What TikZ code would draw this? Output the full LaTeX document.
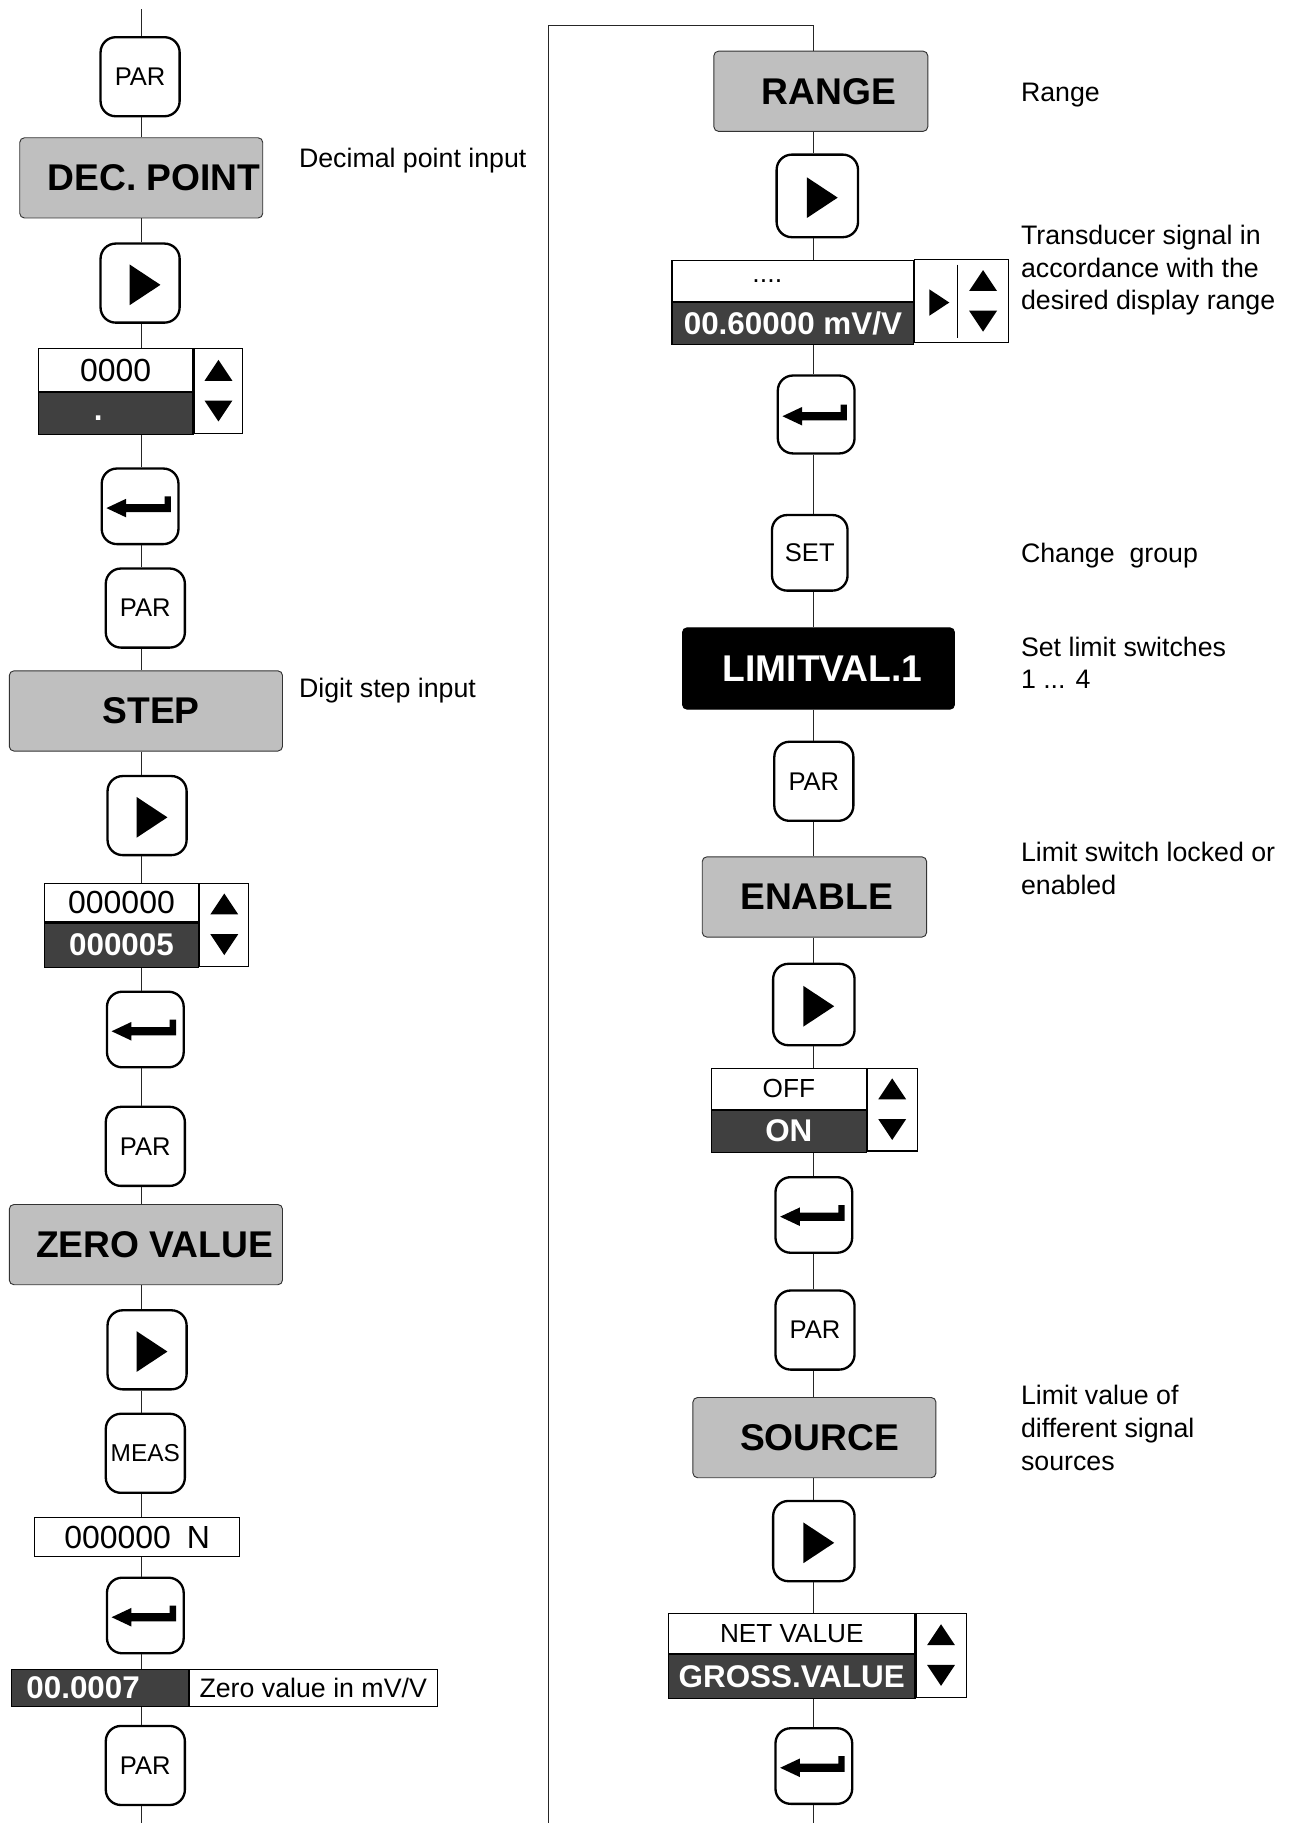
\documentclass[tikz,border=0pt]{standalone}
\usepackage{fontspec}
\setmainfont{Liberation Sans}
\usetikzlibrary{positioning}
\definecolor{titlegray}{RGB}{191,191,191}
\definecolor{dispdark}{RGB}{64,64,64}

\begin{document}
\begin{tikzpicture}[x=1pt,y=-1pt,
  keybox/.style={draw,line width=2pt,rounded corners=13pt,fill=white,
    minimum width=68pt,minimum height=68pt,inner sep=0pt,
    font=\fontsize{22}{26}\selectfont},
  enterbox/.style={keybox,minimum width=66pt,minimum height=65pt},
  titlebox/.style={draw=black!80,line width=0.8pt,rounded corners=4pt,
    fill=titlegray,minimum height=69pt,inner sep=0pt,
    font=\fontsize{32}{36}\selectfont\bfseries},
  limbox/.style={titlebox,draw=black,fill=black,text=white},
  cell/.style={draw,line width=0.9pt,fill=white,inner sep=0pt,
    font=\fontsize{27.5}{30}\selectfont},
  darkcell/.style={cell,fill=dispdark,text=white,
    font=\fontsize{27}{30}\selectfont\bfseries},
  wordcell/.style={cell,font=\fontsize{22.5}{26}\selectfont},
  note/.style={inner sep=0pt,align=left,font=\fontsize{23}{28}\selectfont},
  flow/.style={line width=0.9pt,black!85},
  playsym/.pic={\fill (-9,-16) -- (17.5,1.5) -- (-9,19) -- cycle;},
  entersym/.pic={\fill (-29,1.5) -- (-12,-6.5) -- (-12,-2) -- (21,-2)
    -- (21,-8.5) -- (26.5,-8.5) -- (26.5,5) -- (-12,5) -- (-12,9.5) -- cycle;},
  updown/.pic={\fill (0,-27) -- (12,-9) -- (-12,-9) -- cycle;
    \fill (-12,8) -- (12,8) -- (0,26) -- cycle;}
]
\useasboundingbox (0,0) rectangle (1113,1568);
\coordinate (lsp) at (122,0);
\coordinate (rsp) at (700,0);
\coordinate (ltop) at (122,8);
\coordinate (lbot) at (122,1568);
\coordinate (fbot) at (472,1568);
\coordinate (ftop) at (472,22);

% left column
\node[keybox] (par1) at (120.5,66) {PAR};
\node[titlebox,minimum width=209pt] (dec) at (121.5,153) {\hspace*{22pt}DEC. POINT};
\node[keybox] (play1) at (120.5,243.5) {};
\pic at (play1) {playsym};
\node[cell,minimum width=133pt,minimum height=37pt] (d1t) at (99.5,318.5) {0000};
\node[darkcell,minimum width=133pt,minimum height=36pt,below=0pt of d1t] (d1b)
  {\strut.\hspace*{30pt}};
\node[cell,minimum width=42pt,minimum height=73pt,anchor=north west] (d1a)
  at (d1t.north east) {};
\pic at (d1a) {updown};
\node[enterbox] (ent1) at (120.5,435.5) {};
\pic at (ent1) {entersym};
\node[keybox] (par2) at (125,523) {PAR};
\node[titlebox,minimum width=235pt] (step) at (125.5,611.5) {\hspace*{9pt}STEP};
\node[keybox] (play2) at (126.5,701.5) {};
\pic at (play2) {playsym};
\node[cell,minimum width=133pt,minimum height=33pt] (d3t) at (104.5,776.5) {000000};
\node[darkcell,minimum width=133pt,minimum height=38pt,below=0pt of d3t] (d3b)
  {000005};
\node[cell,minimum width=42pt,minimum height=71pt,anchor=north west] (d3a)
  at (d3t.north east) {};
\pic at (d3a) {updown};
\node[enterbox] (ent2) at (125,885.5) {};
\pic at (ent2) {entersym};
\node[keybox] (par3) at (125,986) {PAR};
\node[titlebox,minimum width=235pt] (zero) at (125.5,1070.5) {\hspace*{15pt}ZERO VALUE};
\node[keybox] (play3) at (126.5,1161) {};
\pic at (play3) {playsym};
\node[keybox,font=\fontsize{21}{24}\selectfont] (meas) at (125,1250) {MEAS};
\node[cell,minimum width=176pt,minimum height=34pt] (d5) at (118,1322)
  {000000\hspace{0.5em}N};
\node[enterbox] (ent3) at (125,1389.5) {};
\pic at (ent3) {entersym};
\node[darkcell,minimum width=152pt,minimum height=32pt] (zv) at (86,1452)
  {00.0007\hspace*{29pt}};
\node[cell,minimum width=213pt,minimum height=32pt,anchor=west,
  font=\fontsize{23}{28}\selectfont] (zvt) at (zv.east) {Zero value in mV/V};
\node[keybox] (par4) at (125,1518.5) {PAR};

\draw[flow] (ltop) -- (par1.north -| lsp);
\draw[flow] (par1.south -| lsp) -- (dec.north -| lsp);
\draw[flow] (dec.south -| lsp) -- (play1.north -| lsp);
\draw[flow] (play1.south -| lsp) -- (d1t.north -| lsp);
\draw[flow] (d1b.south -| lsp) -- (ent1.north -| lsp);
\draw[flow] (ent1.south -| lsp) -- (par2.north -| lsp);
\draw[flow] (par2.south -| lsp) -- (step.north -| lsp);
\draw[flow] (step.south -| lsp) -- (play2.north -| lsp);
\draw[flow] (play2.south -| lsp) -- (d3t.north -| lsp);
\draw[flow] (d3b.south -| lsp) -- (ent2.north -| lsp);
\draw[flow] (ent2.south -| lsp) -- (par3.north -| lsp);
\draw[flow] (par3.south -| lsp) -- (zero.north -| lsp);
\draw[flow] (zero.south -| lsp) -- (play3.north -| lsp);
\draw[flow] (play3.south -| lsp) -- (meas.north -| lsp);
\draw[flow] (meas.south -| lsp) -- (d5.north -| lsp);
\draw[flow] (d5.south -| lsp) -- (ent3.north -| lsp);
\draw[flow] (ent3.south -| lsp) -- (zv.north -| lsp);
\draw[flow] (zv.south -| lsp) -- (par4.north -| lsp);
\draw[flow] (par4.south -| lsp) -- (lbot);

% right column
\node[titlebox,minimum width=184pt] (range) at (706,78.5) {\hspace*{14pt}RANGE};
\node[keybox,minimum width=70pt,minimum height=71pt] (playr1) at (703,168.5) {};
\pic at (playr1) {playsym};
\node[cell,minimum width=208pt,minimum height=35pt,
  font=\fontsize{23}{28}\selectfont] (d2t) at (682,241.5) {....\hspace*{44pt}};
\node[darkcell,minimum width=208pt,minimum height=36pt,below=0pt of d2t] (d2b)
  {00.60000 mV/V};
\node[minimum width=37pt,minimum height=71pt,inner sep=0pt,anchor=north west]
  (d2p) at (d2t.north east) {};
\node[minimum width=43pt,minimum height=71pt,inner sep=0pt,anchor=north west]
  (d2a) at (d2p.north east) {};
\draw[line width=0.9pt] (d2p.north west) rectangle (d2a.south east);
\draw[line width=0.9pt] ([yshift=-4pt]d2a.north west) -- ([yshift=4pt]d2a.south west);
\pic[scale=0.65] at (d2p) {playsym};
\pic at (d2a) {updown};
\node[enterbox,minimum height=67pt] (entr1) at (702,356.5) {};
\pic at (entr1) {entersym};
\node[keybox,minimum width=65pt,minimum height=65pt] (set) at (696.5,475.5) {SET};
\node[limbox,minimum width=234pt,minimum height=70pt] (lim) at (704,575)
  {\hspace*{7pt}LIMITVAL.1};
\node[keybox] (parr1) at (700,672) {PAR};
\node[titlebox,minimum width=193pt] (enable) at (700.5,771.5) {\hspace*{4pt}ENABLE};
\node[keybox,minimum width=70pt,minimum height=70pt] (playr2) at (700,864) {};
\pic at (playr2) {playsym};
\node[wordcell,minimum width=133pt,minimum height=35pt] (d4t) at (678.5,936.5) {OFF};
\node[darkcell,minimum width=133pt,minimum height=36pt,below=0pt of d4t] (d4b) {ON};
\node[cell,minimum width=43pt,minimum height=71pt,anchor=north west] (d4a)
  at (d4t.north east) {};
\pic at (d4a) {updown};
\node[enterbox] (entr2) at (700,1045) {};
\pic at (entr2) {entersym};
\node[keybox] (parr2) at (701,1144) {PAR};
\node[titlebox,minimum width=209pt] (source) at (700.5,1236.5) {\hspace*{9pt}SOURCE};
\node[keybox,minimum width=70pt,minimum height=69pt] (playr3) at (700,1325.5) {};
\pic at (playr3) {playsym};
\node[wordcell,minimum width=212pt,minimum height=34pt] (d6t) at (681,1405)
  {NET VALUE};
\node[darkcell,minimum width=212pt,minimum height=38pt,below=0pt of d6t] (d6b)
  {GROSS.VALUE};
\node[cell,minimum width=43pt,minimum height=72pt,anchor=north west] (d6a)
  at (d6t.north east) {};
\pic at (d6a) {updown};
\node[enterbox] (entr3) at (700,1519) {};
\pic at (entr3) {entersym};

\draw[flow] (fbot) -- (ftop) -- (ftop -| rsp) -- (range.north -| rsp);
\draw[flow] (range.south -| rsp) -- (playr1.north -| rsp);
\draw[flow] (playr1.south -| rsp) -- (d2t.north -| rsp);
\draw[flow] (d2b.south -| rsp) -- (entr1.north -| rsp);
\draw[flow] (entr1.south -| rsp) -- (set.north -| rsp);
\draw[flow] (set.south -| rsp) -- (lim.north -| rsp);
\draw[flow] (lim.south -| rsp) -- (parr1.north -| rsp);
\draw[flow] (parr1.south -| rsp) -- (enable.north -| rsp);
\draw[flow] (enable.south -| rsp) -- (playr2.north -| rsp);
\draw[flow] (playr2.south -| rsp) -- (d4t.north -| rsp);
\draw[flow] (d4b.south -| rsp) -- (entr2.north -| rsp);
\draw[flow] (entr2.south -| rsp) -- (parr2.north -| rsp);
\draw[flow] (parr2.south -| rsp) -- (source.north -| rsp);
\draw[flow] (source.south -| rsp) -- (playr3.north -| rsp);
\draw[flow] (playr3.south -| rsp) -- (d6t.north -| rsp);
\draw[flow] (d6b.south -| rsp) -- (entr3.north -| rsp);
\draw[flow] (entr3.south -| rsp) -- (entr3.south |- fbot);

% notes
\node[note,anchor=base west] (ndec) at (257,144) {Decimal point input};
\node[note,anchor=base west] (nstep) at (257,600) {Digit step input};
\node[note,anchor=base west] (nrange) at (878,87) {Range};
\node[note,anchor=north west] (nsig) at (878,193.5)
  {Transducer signal in\\accordance with the\\desired display range};
\node[note,anchor=base west] (nset) at (878,484) {Change\ \ group};
\node[note,anchor=north west] (nlim) at (878,547.5) {Set limit switches\\1 ... 4};
\node[note,anchor=north west] (nen) at (878,724.5)
  {Limit switch locked or\\enabled};
\node[note,anchor=north west] (nsrc) at (878,1191.5)
  {Limit value of\\different signal\\sources};
\end{tikzpicture}
\end{document}
